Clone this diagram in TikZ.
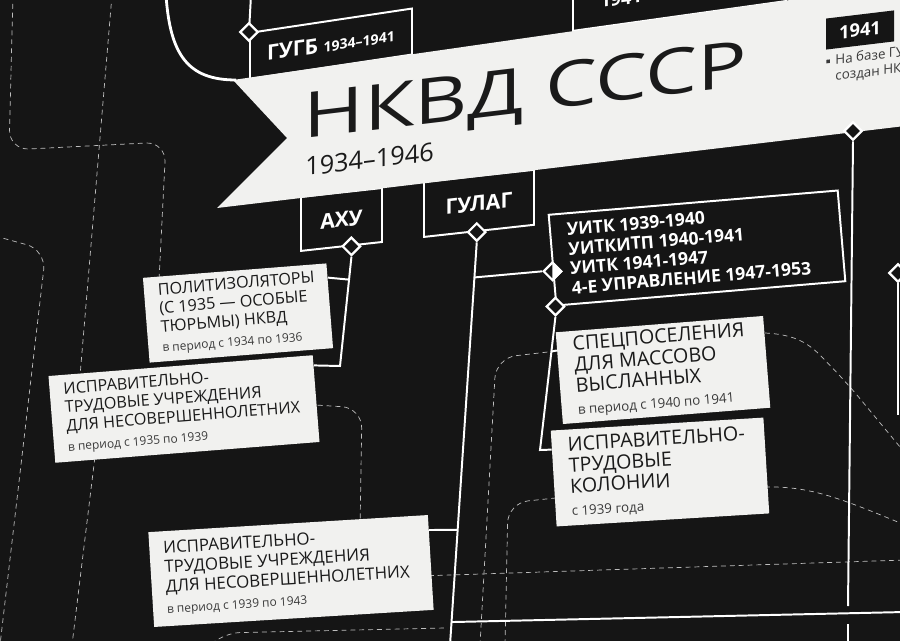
\documentclass[tikz,border=0pt]{standalone}
\usepackage{fontspec}
\setmainfont{Open Sans}
\usepackage{xcolor}
\usepackage{tikz}
\usetikzlibrary{calc,shapes.geometric}
\definecolor{poster}{HTML}{151515}
\definecolor{paper}{HTML}{F1F1EF}
\definecolor{ink}{HTML}{1A1A1A}
\definecolor{note}{HTML}{3A3A3A}
\definecolor{trailgray}{HTML}{BEBEBE}
\newcommand{\period}[2][8.5]{\\[1pt]{\fontsize{#1}{#1}\selectfont\color{note}#2}}

\begin{document}
\begin{tikzpicture}[x=0.25mm, y=-0.25mm,
    every node/.style={inner sep=0pt},
    card/.style={fill=paper, text=ink, align=flush left, inner xsep=3.5mm, inner ysep=1.2mm,
      font=\fontsize{11.5}{13.2}\selectfont},
    bigcard/.style={card, inner xsep=4mm, font=\fontsize{14}{15}\selectfont},
    unit/.style={draw=white, fill=poster, text=white, line width=1.4pt,
      font=\bfseries\fontsize{15}{15}\selectfont},
    knot/.style={diamond, draw=white, fill=poster, line width=1.6pt, minimum size=4.6mm},
    link/.style={draw=white, line width=1.4pt},
    trail/.style={draw=trailgray, line width=0.5pt, dash pattern=on 3.5pt off 2.8pt,
      rounded corners=5mm}]
  \useasboundingbox (0,0) rectangle (900,641);
  \clip (0,0) rectangle (900,641);
  \fill[poster] (0,0) rectangle (900,641);

  % dashed background routes
  \draw[trail] (13,-5) -- (9,150) -- (166,142) -- (158,300);
  \draw[trail] (112,-5) -- (78,400);
  \draw[trail] (97,440) -- (72,645);
  \draw[trail] (-5,236) -- (46,250) -- (0,645);
  \draw[trail] (300,404) -- (362,408) -- (360,530);
  \draw[trail] (205,650) -- (220,633) -- (445,628);
  \draw[trail] (420,576) -- (905,560);
  \draw[trail] (565,350) -- (496,358) -- (480,645);
  \draw[trail] (565,497) -- (508,503) -- (505,645);
  \draw[trail] (765,333) .. controls (805,335) and (815,350) .. (847,383) -- (905,453);
  \draw[trail] (765,487) .. controls (810,486) and (840,498) .. (905,525);

  % units hanging on the banner
  \node[unit, yslant=0.15, anchor=north west, minimum width=40.5mm, minimum height=11.5mm]
    (gugb) at (249,32) {ГУГБ {\fontsize{10}{10}\selectfont 1934–1941}};
  \node[unit, yslant=0.14, anchor=south west, minimum width=53.25mm, minimum height=15mm]
    (war) at (572,32) {};
  \node[unit, yslant=0.11, anchor=south west, minimum width=20.25mm, minimum height=13.5mm]
    (axu) at (300,252) {АХУ};
  \node[unit, yslant=0.11, anchor=south west, minimum width=27.5mm, minimum height=13.75mm]
    (gulag) at (423,238) {ГУЛАГ};

  % banner
  \fill[paper] (233,80) -- (790,0) -- (790,-5) -- (905,-5) -- (905,126) -- (217,208)
    -- (287,138) -- cycle;
  \draw[white, line width=2pt] (166,-5) .. controls (170,55) and (188,80) .. (236,80);
  \node[anchor=base west, yslant=0.12, xscale=1.3, text=ink,
    font=\fontsize{45}{45}\selectfont] (title) at (303,139) {НКВД СССР};
  \node[anchor=base west, yslant=0.12, text=ink, font=\fontsize{18}{18}\selectfont]
    (years) at (305,176) {1934–1946};
  \node[anchor=base west, yslant=0.14, text=white, font=\bfseries\fontsize{13}{13}\selectfont]
    (war-text) at (600,8) {1941–1943};
  \node[fill=poster, text=white, yslant=0.12, minimum width=17mm, minimum height=7.75mm,
    font=\bfseries\fontsize{13}{13}\selectfont] (y1941) at (860,30) {1941};
  \node[anchor=north west, yslant=0.12, text=note, align=flush left,
    font=\fontsize{9.5}{11.5}\selectfont] (y1941-note) at (826,55)
    {\makebox[6.5pt][l]{\raisebox{1.5pt}{\rule{2.5pt}{2.5pt}}}На базе ГУГБ НКВД\\
     \hspace*{6.5pt}создан НКГБ};

  % cards
  \node[card, rotate=4.5, text width=39mm, minimum height=21.25mm] (c1) at (238,313)
    {ПОЛИТИЗОЛЯТОРЫ\\(С 1935 — ОСОБЫЕ\\ТЮРЬМЫ) НКВД\period{в период с 1934 по 1936}};
  \node[card, rotate=4.5, text width=59.25mm, minimum height=21.75mm] (c2) at (184,409)
    {ИСПРАВИТЕЛЬНО-\\ТРУДОВЫЕ УЧРЕЖДЕНИЯ\\ДЛЯ НЕСОВЕРШЕННОЛЕТНИХ\period{в период с 1935 по 1939}};
  \node[card, rotate=3.5, text width=63mm, minimum height=23.75mm,
    font=\fontsize{12}{13.8}\selectfont] (c3) at (291,571)
    {ИСПРАВИТЕЛЬНО-\\ТРУДОВЫЕ УЧРЕЖДЕНИЯ\\ДЛЯ НЕСОВЕРШЕННОЛЕТНИХ\period{в период с 1939 по 1943}};
  \node[bigcard, rotate=4.5, text width=44mm, minimum height=23mm] (c4) at (663,370)
    {СПЕЦПОСЕЛЕНИЯ\\ДЛЯ МАССОВО\\ВЫСЛАННЫХ\period[9.5]{в период с 1940 по 1941}};
  \node[bigcard, rotate=3.5, text width=45.25mm, minimum height=24mm] (c5) at (660,472)
    {ИСПРАВИТЕЛЬНО-\\ТРУДОВЫЕ\\КОЛОНИИ\period[9.5]{с 1939 года}};
  \node[unit, rotate=4.8, align=flush left, text width=64mm, inner xsep=4.25mm,
    minimum height=22.75mm, font=\bfseries\fontsize{12.5}{14}\selectfont] (uitk) at (697,248)
    {УИТК 1939-1940\\УИТКИТП 1940-1941\\УИТК 1941-1947\\4-Е УПРАВЛЕНИЕ 1947-1953};

  % knots
  \coordinate (gugb-top) at (251,-5);
  \draw[link] (gugb-top) -- (gugb.north west);
  \node[knot] (k-gugb) at (gugb.north west) {};
  \node[knot] (k-axu) at ($(axu.south west)!.62!(axu.south east)$) {};
  \node[knot] (k-gulag) at ($(gulag.south west)!.48!(gulag.south east)$) {};
  \node[knot] (k-main) at (853,131) {};
  \node[knot] (k-uitk) at ($(uitk.north west)!.62!(uitk.south west)$) {};
  \fill[white] (k-uitk.north) -- (k-uitk.east) -- (k-uitk.south) -- cycle;
  \node[knot] (k-camp) at (uitk.south west) {};
  \node[knot] (k-side) at (898,273) {};

  % connectors
  \coordinate (axu-foot) at (340,366);
  \coordinate (gulag-foot) at (450,645);
  \coordinate (camp-foot) at (540,450);
  \coordinate (low-end) at (905,612);
  \coordinate (main-gap1) at (848,606);
  \coordinate (main-gap2) at (848,624);
  \coordinate (main-foot) at (848,645);
  \coordinate (side-foot) at (898,415);
  \draw[link] (k-axu.south) -- (axu-foot) -- ($(c2.north east)!.12!(c2.south east)$);
  \draw[link] ($(c1.north east)!.17!(c1.south east)$) -- ($(k-axu.south)!.21!(axu-foot)$);
  \draw[link] (k-gulag.south) -- (gulag-foot);
  \draw[link] ($(k-gulag.south)!.087!(gulag-foot)$) -- (k-uitk.west);
  \draw[link] ($(k-gulag.south)!.714!(gulag-foot)$) -- ($(c3.north east)!.16!(c3.south east)$);
  \draw[link] ($(k-gulag.south)!.943!(gulag-foot)$) -- (low-end);
  \draw[link] (k-camp.south) -- (camp-foot) -- ($(c5.north west)!.2!(c5.south west)$);
  \draw[link] ($(k-camp.south)!.26!(camp-foot)$) -- ($(c4.north west)!.2!(c4.south west)$);
  \draw[link] (k-main.south) -- (main-gap1);
  \draw[link] (main-gap2) -- (main-foot);
  \draw[link] (k-side.south) -- (side-foot);
\end{tikzpicture}
\end{document}
